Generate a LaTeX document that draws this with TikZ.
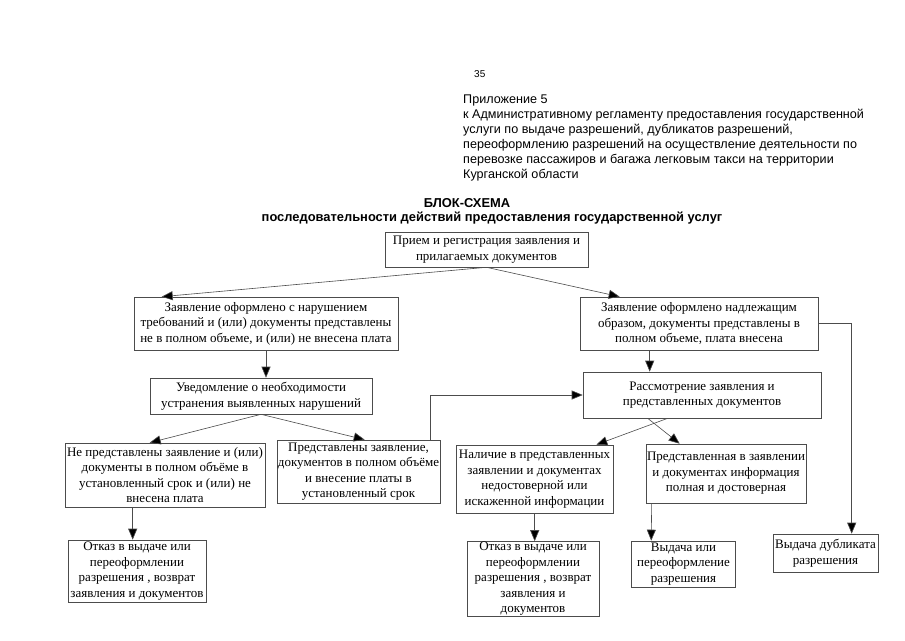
\documentclass[tikz,border=0pt]{standalone}
\usepackage{fontspec}
\setmainfont{Liberation Serif}
\newfontfamily\arial{Liberation Sans}
\usetikzlibrary{arrows.meta,calc}
\begin{document}
\begin{tikzpicture}[x=1pt,y=-1pt,
  box/.style={draw=black!70, line width=0.6pt, align=center, inner sep=0pt,
    font=\fontsize{13}{15.5}\selectfont},
  conn/.style={draw=black!70, line width=0.6pt,
    -{Triangle[length=11pt,width=9pt,fill=black]}},
  hdr/.style={font=\arial\fontsize{12.6}{15}\selectfont, inner sep=0pt},
  ttl/.style={font=\arial\bfseries\fontsize{12.9}{15}\selectfont, inner sep=0pt}]
\useasboundingbox[fill=white] (0,0) rectangle (905,640);

% header
\node[hdr, font=\arial\fontsize{10}{12}\selectfont, anchor=base west] (pg) at (474,77) {35};
\node[hdr, anchor=north west, align=left] (hd) at (463,95) {Приложение 5\\
к Административному регламенту предоставления государственной\\
услуги по выдаче разрешений, дубликатов разрешений,\\
переоформлению разрешений на осуществление деятельности по\\
перевозке пассажиров и багажа легковым такси на территории\\
Курганской области};
\node[ttl] (t1) at (467,203) {БЛОК-СХЕМА};
\node[ttl] (t2) at (492,218) {последовательности действий предоставления государственной услуг};

% boxes
\node[box, minimum width=203pt, minimum height=35pt] (prm) at (486.5,249.5)
  {Прием и регистрация заявления и\\прилагаемых документов};
\node[box, minimum width=264pt, minimum height=53pt] (l1) at (266,323.5)
  {Заявление оформлено с нарушением\\требований и (или) документы представлены\\не в полном объеме, и (или) не внесена плата};
\node[box, minimum width=238pt, minimum height=53pt] (r1) at (699,323.5)
  {Заявление оформлено надлежащим\\образом, документы представлены в\\полном объеме, плата внесена};
\node[box, minimum width=222pt, minimum height=36pt] (l2) at (261,396)
  {Уведомление о необходимости\\устранения выявленных нарушений};
\node[box, minimum width=238pt, minimum height=46pt] (r2) at (702,395)
  {Рассмотрение заявления и\\представленных документов};
\node[box, minimum width=200pt, minimum height=64pt] (l3a) at (165,475)
  {Не представлены заявление и (или)\\документы в полном объёме в\\установленный срок и (или) не\\внесена плата};
\node[box, minimum width=163pt, minimum height=63pt] (l3b) at (358.5,471.5)
  {Представлены заявление,\\документов в полном объёме\\и внесение платы в\\установленный срок};
\node[box, minimum width=157pt, minimum height=68pt] (r3a) at (534.5,479)
  {Наличие в представленных\\заявлении и документах\\недостоверной или\\искаженной информации};
\node[box, minimum width=160pt, minimum height=59pt] (r3b) at (726,473.5)
  {Представленная в заявлении\\и документах информация\\полная и достоверная};
\node[box, minimum width=138pt, minimum height=62pt] (l4) at (137,571)
  {Отказ в выдаче или\\переоформлении\\разрешения , возврат\\заявления и документов};
\node[box, minimum width=132pt, minimum height=75pt] (r4a) at (533,579)
  {Отказ в выдаче или\\переоформлении\\разрешения , возврат\\заявления и\\документов};
\node[box, minimum width=104pt, minimum height=46pt] (r4b) at (683.5,564)
  {Выдача или\\переоформление\\разрешения};
\node[box, minimum width=105pt, minimum height=38pt] (r4c) at (825.5,553)
  {Выдача дубликата\\разрешения};

% connectors
\draw[conn] (prm.south) -- ($(l1.north west)+(28,0)$);
\draw[conn] (prm.south) -- ($(r1.north west)+(40,0)$);
\draw[conn] (l1.south) -- (l1.south |- l2.north);
\draw[conn] ($(r1.south west)+(70,0)$) -- ($(r2.north west)+(67,0)$);
\draw[conn] (l2.south) -- ($(l3a.north west)+(85,0)$);
\draw[conn] (l2.south) -- ($(l3b.north west)+(88,0)$);
\draw[conn] ($(l3b.north east)+(-10,0)$) |- (r2.west);
\draw[conn] ($(r2.south west)+(85,0)$) -- ($(r3a.north east)+(-17,0)$);
\draw[conn] ($(r2.south west)+(65,0)$) -- ($(r3b.north west)+(34,0)$);
\draw[conn] (r1.east) -| ($(r4c.north west)+(79,0)$);
\draw[conn] ($(l3a.south west)+(68,0)$) -- ($(l4.north west)+(65,0)$);
\draw[conn] ($(r3a.south west)+(79,0)$) -- ($(r4a.north west)+(68,0)$);
\draw[conn] ($(r3b.south west)+(6,0)$) -- ($(r4b.north west)+(20,0)$);
\end{tikzpicture}
\end{document}
